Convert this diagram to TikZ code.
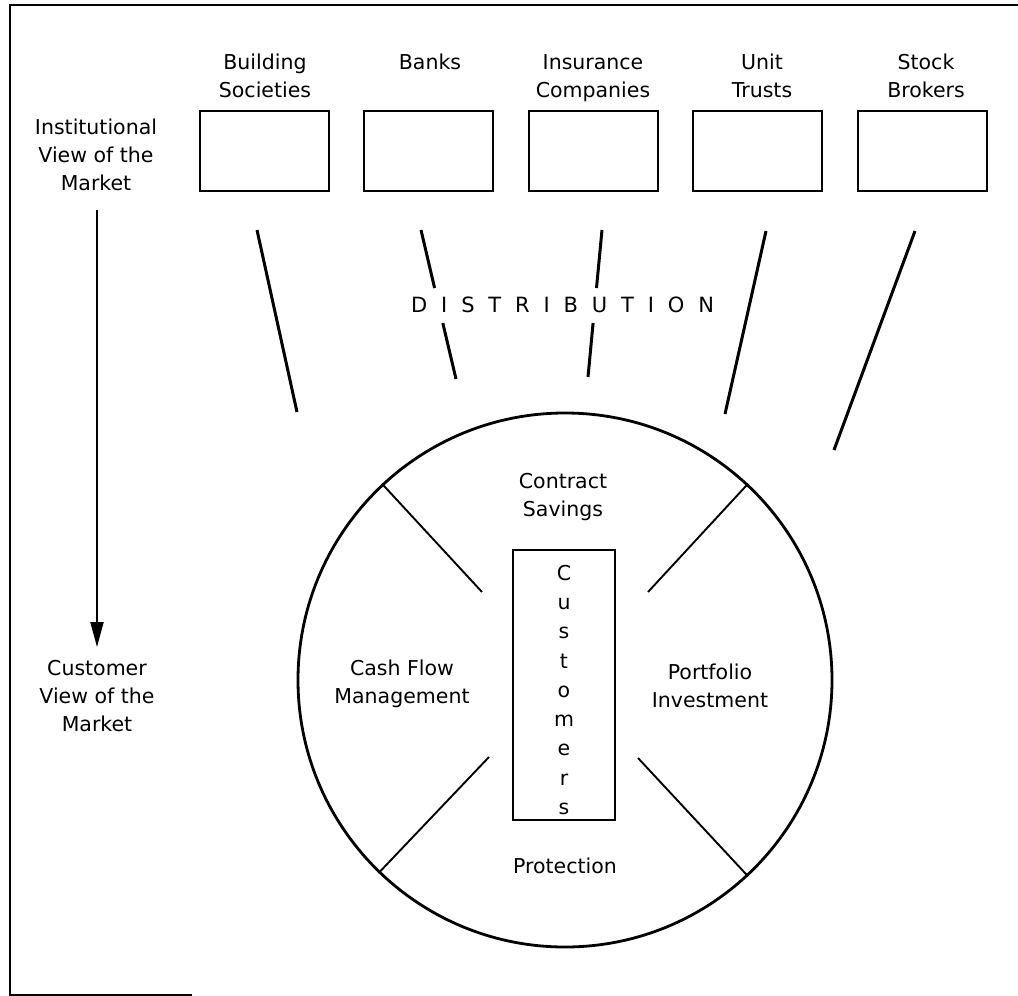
\documentclass[tikz,border=0pt]{standalone}
\usepackage{fontspec}
\setmainfont{DejaVu Sans}
\usetikzlibrary{arrows.meta,calc}
\begin{document}
\begin{tikzpicture}[x=1pt,y=-1pt,
  lab/.style={font=\fontsize{20.5}{28}\selectfont, align=center, inner sep=0pt},
  inst/.style={draw, line width=2pt, minimum width=129pt, minimum height=80pt, inner sep=0pt},
  dist/.style={line width=3pt},
  spoke/.style={line width=1.9pt},
  frame/.style={line width=2.2pt},
]
\useasboundingbox (0,0) rectangle (1018,996);
% frame
\coordinate (f1) at (1018,5);
\coordinate (f2) at (10,5);
\coordinate (f3) at (10,995);
\coordinate (f4) at (192,995);
\draw[frame] (f1) -- (f2) -- (f3) -- (f4);

% institution boxes
\node[inst] (bs) at (264.5,151) {};
\node[inst] (bk) at (428.5,151) {};
\node[inst] (ic) at (593.5,151) {};
\node[inst] (ut) at (757.5,151) {};
\node[inst] (sb) at (922.5,151) {};

% institution labels
\node[lab] (lbs) at (265,76) {Building\\Societies};
\node[lab, anchor=base] (lbk) at (430,69) {Banks};
\node[lab] (lic) at (593,78.5) {Insurance\\Companies};
\node[lab] (lut) at (762,76) {Unit\\Trusts};
\node[lab] (lsb) at (926,76) {Stock\\Brokers};

% left labels and arrow
\node[lab] (instv) at (96,155) {Institutional\\View of the\\Market};
\node[lab] (custv) at (97,696) {Customer\\View of the\\Market};
\coordinate (ar1) at (97,210);
\coordinate (ar2) at (97,647);
\draw[line width=1.9pt, -{Triangle[length=25pt,width=13pt]}] (ar1) -- (ar2);

% distribution lines
\coordinate (d1a) at (257,230);   \coordinate (d1b) at (297,412);
\coordinate (d2a) at (421,230);   \coordinate (d2b) at (434.6,288);
\coordinate (d2c) at (442.8,323); \coordinate (d2d) at (456,379);
\coordinate (d3a) at (602,230);   \coordinate (d3b) at (596.5,288);
\coordinate (d3c) at (593.1,323); \coordinate (d3d) at (588,377);
\coordinate (d4a) at (766,231);   \coordinate (d4b) at (725,414);
\coordinate (d5a) at (915,231);   \coordinate (d5b) at (834,450);
\draw[dist] (d1a) -- (d1b);
\draw[dist] (d2a) -- (d2b);
\draw[dist] (d2c) -- (d2d);
\draw[dist] (d3a) -- (d3b);
\draw[dist] (d3c) -- (d3d);
\draw[dist] (d4a) -- (d4b);
\draw[dist] (d5a) -- (d5b);
\node[font=\fontsize{21}{24}\selectfont\addfontfeature{LetterSpace=66}, inner sep=0pt, anchor=west] (distr) at (411,305) {DISTRIBUTION};

% circle
\node[draw, circle, line width=2.8pt, minimum size=534pt, inner sep=0pt] (circ) at (565,680) {};
\coordinate (sul) at (482,592);
\coordinate (sur) at (648,592);
\coordinate (sll) at (489,757);
\coordinate (slr) at (638,758);
\draw[spoke] (circ.133) -- (sul);
\draw[spoke] (circ.47) -- (sur);
\draw[spoke] (circ.226) -- (sll);
\draw[spoke] (circ.313) -- (slr);

% customers box
\node[draw, line width=2pt, minimum width=102pt, minimum height=270pt, inner sep=0pt] (cbox) at (564,685) {};
\node[font=\fontsize{20.5}{29.25}\selectfont, align=center, inner sep=0pt] (ctext) at (564,690) {C\\u\\s\\t\\o\\m\\e\\r\\s};

% segment labels
\node[lab] (cs) at (563,497) {Contract\\Savings};
\node[lab] (cf) at (402,684) {Cash Flow\\Management};
\node[lab] (pi) at (710,686) {Portfolio\\Investment};
\node[lab, anchor=base] (pr) at (565,873) {Protection};
\end{tikzpicture}
\end{document}
